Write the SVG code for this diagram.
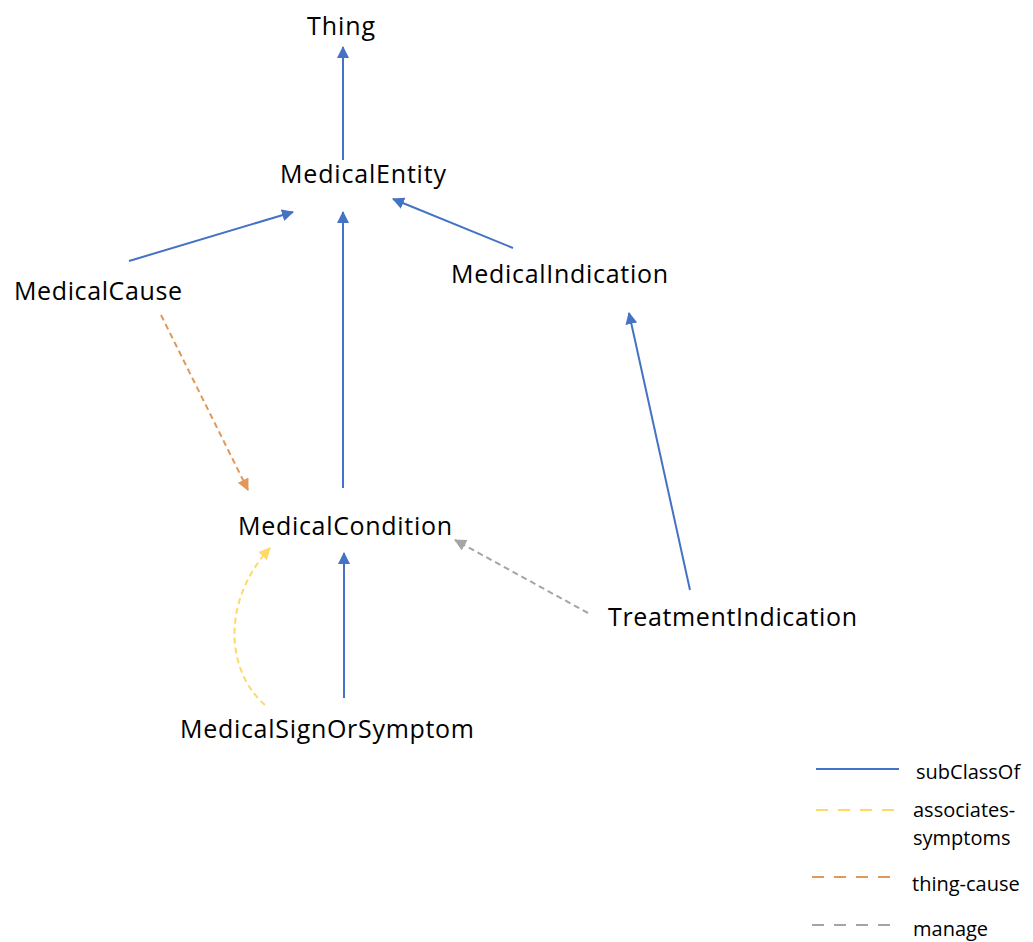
<svg xmlns="http://www.w3.org/2000/svg" width="1033" height="942" viewBox="0 0 1033 942">
<style>
.n{font-family:"Open Sans","Liberation Sans",sans-serif;font-size:25px;fill:#000}
.l{font-family:"Open Sans","Liberation Sans",sans-serif;font-size:20px;fill:#000}
.sub{stroke:#4472C4;stroke-width:2;fill:none}
.sym{stroke:#FFD966;stroke-width:2;fill:none;stroke-dasharray:6 4}
.cause{stroke:#E0995A;stroke-width:2;fill:none;stroke-dasharray:6 4}
.man{stroke:#A5A5A5;stroke-width:2;fill:none;stroke-dasharray:6 4}
</style>
<defs>
<marker id="aB" markerUnits="userSpaceOnUse" markerWidth="12" markerHeight="12" viewBox="0 0 12 12" refX="11" refY="6" orient="auto"><path d="M0,0 L12,6 L0,12 Z" fill="#4472C4"/></marker>
<marker id="aY" markerUnits="userSpaceOnUse" markerWidth="12" markerHeight="12" viewBox="0 0 12 12" refX="11" refY="6" orient="auto"><path d="M0,0 L12,6 L0,12 Z" fill="#FFD966"/></marker>
<marker id="aO" markerUnits="userSpaceOnUse" markerWidth="12" markerHeight="12" viewBox="0 0 12 12" refX="11" refY="6" orient="auto"><path d="M0,0 L12,6 L0,12 Z" fill="#E0995A"/></marker>
<marker id="aG" markerUnits="userSpaceOnUse" markerWidth="12" markerHeight="12" viewBox="0 0 12 12" refX="11" refY="6" orient="auto"><path d="M0,0 L12,6 L0,12 Z" fill="#A5A5A5"/></marker>
</defs>
<rect width="1033" height="942" fill="#fff"/>
<g id="connectors">
<line class="sub" x1="343" y1="160" x2="343" y2="47" marker-end="url(#aB)"/>
<line class="sub" x1="129" y1="261" x2="293" y2="212" marker-end="url(#aB)"/>
<line class="sub" x1="343" y1="488" x2="343" y2="212" marker-end="url(#aB)"/>
<line class="sub" x1="513" y1="248" x2="393" y2="199" marker-end="url(#aB)"/>
<line class="sub" x1="690" y1="590" x2="629" y2="313" marker-end="url(#aB)"/>
<line class="sub" x1="344" y1="698" x2="344" y2="553" marker-end="url(#aB)"/>
<line class="cause" x1="161" y1="315" x2="248" y2="490" marker-end="url(#aO)"/>
<line class="man" x1="588" y1="613" x2="455" y2="540" marker-end="url(#aG)"/>
<path class="sym" d="M265,705 C225,670 222,600 270,548" marker-end="url(#aY)"/>
</g>
<g id="node-thing"><text class="n" x="307" y="35" textLength="68">Thing</text></g>
<g id="node-medicalentity"><text class="n" x="280" y="183" textLength="166">MedicalEntity</text></g>
<g id="node-medicalcause"><text class="n" x="14" y="300" textLength="168">MedicalCause</text></g>
<g id="node-medicalindication"><text class="n" x="451" y="283" textLength="217">MedicalIndication</text></g>
<g id="node-medicalcondition"><text class="n" x="238" y="535" textLength="214">MedicalCondition</text></g>
<g id="node-treatmentindication"><text class="n" x="608" y="626" textLength="249">TreatmentIndication</text></g>
<g id="node-medicalsignorsymptom"><text class="n" x="180" y="738" textLength="294">MedicalSignOrSymptom</text></g>
<g id="legend">
<line class="sub" x1="816" y1="769" x2="899" y2="769"/>
<line class="sym" x1="816" y1="810" x2="899" y2="810" style="stroke-dasharray:12 10"/>
<line class="cause" x1="812" y1="877" x2="895" y2="877" style="stroke-dasharray:12 10"/>
<line class="man" x1="812" y1="925" x2="895" y2="925" style="stroke-dasharray:12 10"/>
<text class="l" x="916" y="779">subClassOf</text>
<text class="l" x="913" y="817">associates-</text>
<text class="l" x="913" y="845">symptoms</text>
<text class="l" x="912" y="891">thing-cause</text>
<text class="l" x="913" y="936">manage</text>
</g>
</svg>
